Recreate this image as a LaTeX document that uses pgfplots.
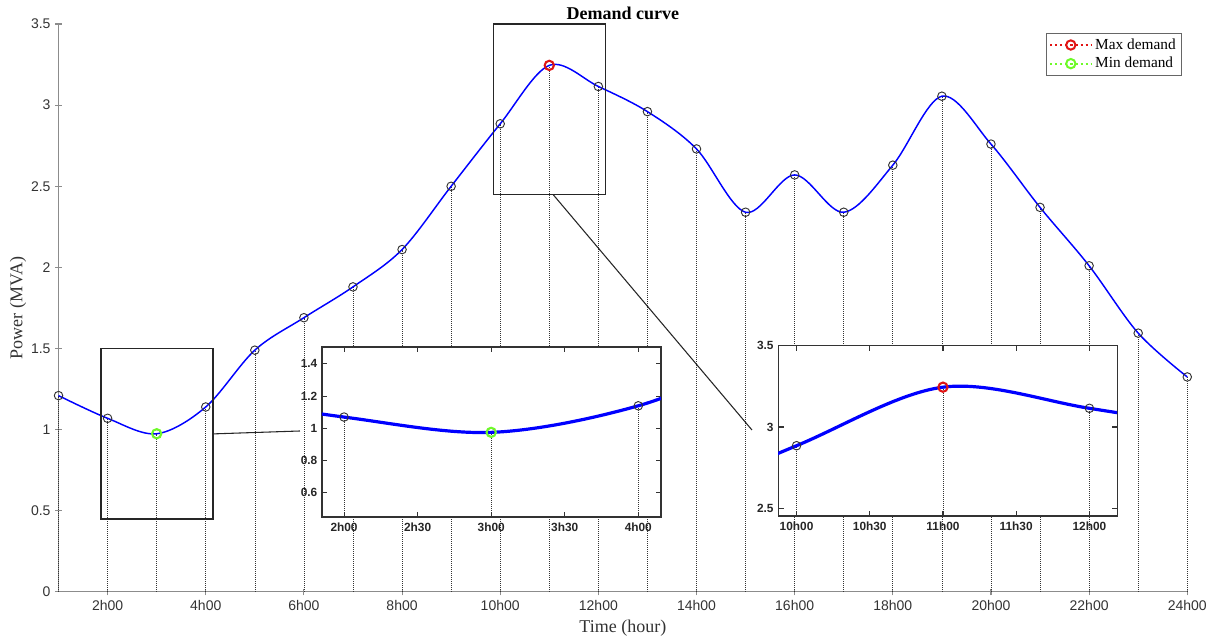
\documentclass[border=0pt]{standalone}
\usepackage{fontspec}
\setmainfont{Liberation Serif}
\setsansfont{Liberation Sans}
\usepackage{pgfplots}
\usepackage{pgfplotstable}
\pgfplotsset{compat=1.18}
\definecolor{mgreen}{RGB}{110,250,40}
\definecolor{mred}{RGB}{225,20,20}
\pgfplotstableread{
h p
1 1.21
2 1.07
3 0.975
4 1.14
5 1.49
6 1.69
7 1.88
8 2.11
9 2.50
10 2.885
11 3.245
12 3.115
13 2.96
14 2.73
15 2.34
16 2.57
17 2.34
18 2.63
19 3.055
20 2.76
21 2.37
22 2.01
23 1.595
24 1.325
}\demand
\begin{document}
\begin{tikzpicture}[x=1pt,y=1pt]
\useasboundingbox (-43.9,-34.5) rectangle (864.4,444);
% ---------- main axis ----------
\begin{axis}[
  at={(0,0)}, anchor=south west, scale only axis,
  width=846.6pt, height=426pt,
  xmin=1, xmax=24, ymin=0, ymax=3.5,
  axis x line=bottom, axis y line=left,
  axis line style={-, draw=black!45, line width=0.8pt},
  tick style={draw=black!45, line width=0.8pt},
  major tick length=5pt,
  xtick={2,4,...,24},
  xticklabels={2h00,4h00,6h00,8h00,10h00,12h00,14h00,16h00,18h00,20h00,22h00,24h00},
  ytick={0,0.5,...,3.5},
  /pgf/number format/assume math mode=true,
  ticklabel style={font=\sffamily\fontsize{10.5}{12}\selectfont, text=black!80},
  every axis title shift=0pt,
  title={\textbf{Demand curve}},
  title style={at={(axis description cs:0.5,1)}, anchor=south, inner sep=0pt, yshift=3pt, font=\fontsize{13.5}{16}\selectfont},
  xlabel={Time (hour)},
  xlabel style={at={(axis description cs:0.5,0)}, anchor=center, yshift=-27pt, font=\fontsize{13.5}{16}\selectfont, text=black!80},
  ylabel={Power (MVA)},
  ylabel style={at={(axis description cs:-0.0359,0.5)}, anchor=center, font=\fontsize{13.5}{16}\selectfont, text=black!80},
  legend style={at={(axis description cs:0.9947,0.984)}, anchor=north east, draw=black!60, fill=white,
    font=\fontsize{11.5}{13}\selectfont, inner sep=2pt, row sep=0.5pt, cells={anchor=west}},
  legend image code/.code={%
    \draw[mark repeat=2,mark phase=2,#1] plot coordinates {(0pt,0pt) (15.5pt,0pt) (31pt,0pt)};},
  clip=false,
]
\addplot[ycomb, densely dotted, black!80, line width=0.5pt, forget plot] table[x=h,y=p] {\demand};
\addplot[blue, line width=1.1pt, smooth, tension=0.55, forget plot] table[x=h,y=p] {\demand};
\addplot[only marks, mark=o, mark size=3.2pt, black!80, mark options={line width=0.7pt}, forget plot] table[x=h,y=p] {\demand};
\draw[black!85, line width=0.9pt] (axis cs:1.866,0.45) rectangle (axis cs:4.147,1.5);
\draw[black!85, line width=0.9pt] (axis cs:9.87,2.45) rectangle (axis cs:12.15,3.5);
\draw[black!85, line width=0.8pt] (axis cs:4.148,0.974) -- (axis cs:5.92,0.992);
\draw[black!85, line width=0.8pt] (axis cs:11.075,2.45) -- (axis cs:15.13,0.998);
\addplot[mred, dash pattern=on 1.6pt off 2.2pt, line width=1.6pt, mark=o, mark size=3.5pt, mark options={solid, line width=1.5pt}] coordinates {(11,3.245)};
\addlegendentry{Max demand}
\addplot[mgreen, dash pattern=on 1.6pt off 2.2pt, line width=1.6pt, mark=o, mark size=3.5pt, mark options={solid, line width=1.5pt}] coordinates {(3,0.975)};
\addlegendentry{Min demand}
\end{axis}
% ---------- left inset ----------
\begin{axis}[
  at={(197.6pt,56.25pt)}, anchor=south west, scale only axis,
  width=254.25pt, height=127.5pt,
  xmin=1.85, xmax=4.154, ymin=0.45, ymax=1.505,
  axis background/.style={fill=white},
  axis line style={draw=black!80, line width=1pt},
  tick style={draw=black!80, line width=0.8pt},
  major tick length=4pt,
  xtick={2,2.5,3,3.5,4},
  xticklabels={2h00,2h30,3h00,3h30,4h00},
  ytick={0.6,0.8,1,1.2,1.4},
  /pgf/number format/assume math mode=true,
  ticklabel style={font=\sffamily\bfseries\fontsize{8.9}{10}\selectfont, text=black!85},
  xticklabel style={yshift=-1pt},
]
\addplot[ycomb, densely dotted, black!80, line width=0.5pt] table[x=h,y=p] {\demand};
\addplot[blue, line width=2.4pt, smooth, tension=0.55] table[x=h,y=p] {\demand};
\addplot[only marks, mark=o, mark size=3.2pt, black!80, mark options={line width=0.7pt}] table[x=h,y=p] {\demand};
\addplot[only marks, mgreen, mark=o, mark size=3.5pt, mark options={line width=1.5pt}] coordinates {(3,0.975)};
\end{axis}
% ---------- right inset ----------
\begin{axis}[
  at={(539.8pt,57pt)}, anchor=south west, scale only axis,
  width=254.25pt, height=127.7pt,
  xmin=9.875, xmax=12.19, ymin=2.453, ymax=3.5,
  axis background/.style={fill=white},
  axis line style={draw=black!80, line width=1pt},
  tick style={draw=black!80, line width=0.8pt},
  major tick length=4pt,
  xtick={10,10.5,11,11.5,12},
  xticklabels={10h00,10h30,11h00,11h30,12h00},
  ytick={2.5,3,3.5},
  /pgf/number format/assume math mode=true,
  ticklabel style={font=\sffamily\bfseries\fontsize{8.9}{10}\selectfont, text=black!85},
  xticklabel style={yshift=-1pt},
]
\addplot[ycomb, densely dotted, black!80, line width=0.5pt] table[x=h,y=p] {\demand};
\addplot[blue, line width=2.4pt, smooth, tension=0.55] table[x=h,y=p] {\demand};
\addplot[only marks, mark=o, mark size=3.2pt, black!80, mark options={line width=0.7pt}] table[x=h,y=p] {\demand};
\addplot[only marks, mred, mark=o, mark size=3.5pt, mark options={line width=1.5pt}] coordinates {(11,3.245)};
\end{axis}
\end{tikzpicture}
\end{document}
